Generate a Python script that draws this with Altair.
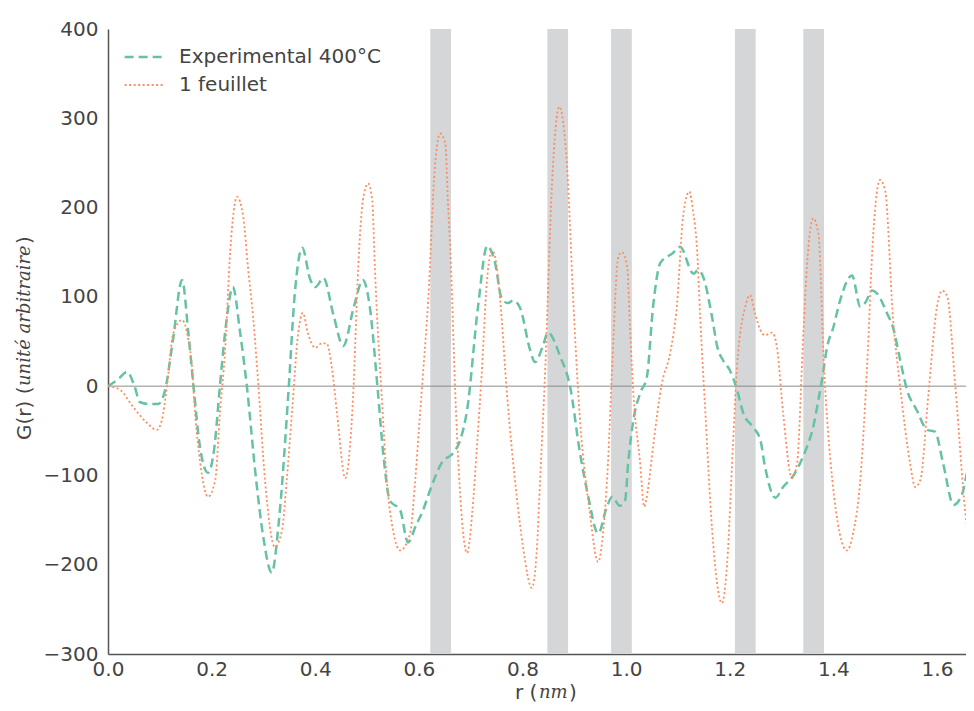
import altair as alt
import pandas as pd

# Experimental 400°C (green dashed)
exp_x = [0, 0.02, 0.037, 0.05, 0.062, 0.08, 0.097, 0.11, 0.125, 0.143, 0.155, 0.165, 0.178, 0.193, 0.205, 0.216, 0.228, 0.241, 0.255, 0.268, 0.285, 0.3, 0.316, 0.33, 0.349, 0.36, 0.375, 0.39, 0.40, 0.416, 0.435, 0.454, 0.475, 0.492, 0.505, 0.52, 0.532, 0.544, 0.564, 0.579, 0.595, 0.606, 0.622, 0.645, 0.666, 0.68, 0.693, 0.714, 0.732, 0.747, 0.76, 0.772, 0.782, 0.795, 0.815, 0.824, 0.84, 0.849, 0.873, 0.892, 0.911, 0.927, 0.946, 0.963, 0.973, 0.988, 0.998, 1.004, 1.014, 1.027, 1.04, 1.052, 1.066, 1.09, 1.104, 1.13, 1.139, 1.149, 1.166, 1.176, 1.187, 1.2, 1.214, 1.226, 1.245, 1.259, 1.268, 1.288, 1.303, 1.323, 1.336, 1.349, 1.361, 1.371, 1.378, 1.388, 1.4, 1.413, 1.436, 1.452, 1.461, 1.475, 1.484, 1.504, 1.515, 1.529, 1.542, 1.561, 1.581, 1.596, 1.612, 1.632, 1.649, 1.658, 1.672]
exp_y = [0, 8, 16, 2, -18, -20, -20, -5, 50, 119, 60, 0, -70, -97, -70, 0, 70, 111, 60, 0, -100, -170, -209, -150, 0, 100, 155, 120, 111, 121, 80, 45, 90, 119, 90, 0, -80, -128, -139, -175, -155, -142, -116, -85, -75, -60, -27, 88, 157, 138, 98, 93, 96, 88, 40, 27, 46, 60, 33, -1, -75, -124, -165, -135, -124, -134, -128, -86, -38, -8, 10, 89, 138, 149, 156, 126, 130, 122, 77, 44, 29, 18, -4, -30, -46, -60, -90, -125, -113, -100, -86, -68, -46, -16, 7, 44, 66, 96, 124, 89, 93, 107, 104, 81, 66, 29, -4, -27, -49, -51, -87, -133, -120, -97, -74]

# 1 feuillet (orange dotted)
sim_x = [0, 0.023, 0.048, 0.075, 0.094, 0.104, 0.113, 0.126, 0.143, 0.155, 0.162, 0.168, 0.178, 0.193, 0.207, 0.216, 0.226, 0.236, 0.249, 0.261, 0.27, 0.28, 0.29, 0.303, 0.322, 0.336, 0.345, 0.355, 0.367, 0.376, 0.386, 0.4, 0.413, 0.422, 0.432, 0.442, 0.458, 0.467, 0.473, 0.483, 0.492, 0.502, 0.51, 0.515, 0.521, 0.528, 0.538, 0.55, 0.564, 0.583, 0.593, 0.6, 0.608, 0.618, 0.631, 0.641, 0.651, 0.656, 0.662, 0.67, 0.68, 0.693, 0.703, 0.712, 0.722, 0.731, 0.741, 0.747, 0.757, 0.77, 0.789, 0.801, 0.818, 0.828, 0.834, 0.844, 0.857, 0.871, 0.878, 0.886, 0.898, 0.908, 0.93, 0.946, 0.956, 0.965, 0.973, 0.985, 0.992, 1.002, 1.008, 1.014, 1.027, 1.035, 1.042, 1.052, 1.069, 1.085, 1.098, 1.11, 1.122, 1.129, 1.137, 1.143, 1.153, 1.166, 1.185, 1.195, 1.206, 1.214, 1.23, 1.239, 1.249, 1.259, 1.268, 1.282, 1.291, 1.303, 1.32, 1.33, 1.342, 1.349, 1.361, 1.371, 1.382, 1.398, 1.426, 1.438, 1.452, 1.465, 1.477, 1.49, 1.5, 1.515, 1.529, 1.548, 1.558, 1.568, 1.583, 1.6, 1.61, 1.62, 1.635, 1.66, 1.672]
sim_y = [0, -4, -23, -41, -49, -38, -4, 59, 74, 52, 22, -30, -86, -124, -105, -30, 40, 152, 212, 190, 134, 78, 3, -105, -180, -161, -105, -30, 59, 82, 59, 43, 48, 48, 21, -30, -103, -68, -12, 134, 208, 227, 208, 134, 59, -8, -105, -161, -184, -165, -105, -49, 14, 96, 246, 283, 272, 208, 134, -4, -124, -187, -142, -68, 21, 115, 152, 145, 96, -8, -124, -180, -226, -180, -105, 21, 227, 313, 298, 246, 96, -12, -142, -197, -161, -86, 21, 145, 150, 134, 59, -8, -86, -135, -116, -68, 3, 37, 90, 190, 218, 197, 152, 77, -30, -161, -243, -198, -68, 21, 89, 102, 81, 63, 57, 60, 44, -30, -103, -86, 59, 134, 188, 171, 21, -105, -184, -165, -105, 21, 171, 231, 219, 77, -1, -86, -113, -105, -12, 89, 107, 100, 3, -161, -172]

band_start = [0.622, 0.848, 0.971, 1.210, 1.342]
band_end = [0.662, 0.888, 1.011, 1.250, 1.382]

series_names = ["Experimental 400°C", "1 feuillet"]
x_ticks = [0.0, 0.2, 0.4, 0.6, 0.8, 1.0, 1.2, 1.4, 1.6]
y_ticks = [-300, -200, -100, 0, 100, 200, 300, 400]

# axis title pieces
ytitle_parts = ["G(r) (", "unité arbitraire", ")"]
xtitle_parts = ["r (", "nm", ")"]

df = pd.concat([
    pd.DataFrame({"r": exp_x, "G": exp_y, "serie": series_names[0], "ord": range(len(exp_x))}),
    pd.DataFrame({"r": sim_x, "G": sim_y, "serie": series_names[1], "ord": range(len(sim_x))}),
])
bands = pd.DataFrame({"a": band_start, "b": band_end})

xscale = alt.Scale(domain=[0, 1.656], nice=False, zero=False)
yscale = alt.Scale(domain=[-300, 400], nice=False)

rects = alt.Chart(bands).mark_rect(color="#d5d6d8").encode(
    x=alt.X("a:Q", scale=xscale,
            axis=alt.Axis(title=None, values=x_ticks, format=".1f", labelFlush=False,
                          labelPadding=5)),
    x2="b:Q",
)

zero = alt.Chart(pd.DataFrame({"z": [0]})).mark_rule(
    color="#808080", strokeWidth=1.5, opacity=0.6
).encode(y=alt.Y("z:Q", scale=yscale))

lines = alt.Chart(df).mark_line(interpolate="monotone", clip=True).encode(
    x=alt.X("r:Q", scale=xscale),
    y=alt.Y("G:Q", scale=yscale,
            axis=alt.Axis(title=None, values=y_ticks, format="d", labelPadding=10)),
    order="ord:Q",
    color=alt.Color("serie:N", sort=series_names,
                    scale=alt.Scale(domain=series_names, range=["#66c2a5", "#fc8d62"]),
                    legend=alt.Legend(title=None, orient="none", legendX=15, legendY=15,
                                      symbolType="stroke", symbolSize=1500,
                                      symbolStrokeWidth=2.5, labelFontSize=20,
                                      labelColor="#444444", rowPadding=2, clipHeight=26,
                                      labelOffset=14, labelLimit=0)),
    strokeDash=alt.StrokeDash("serie:N", sort=series_names,
                              scale=alt.Scale(domain=series_names, range=[[9, 5], [2, 2.5]]),
                              legend=None),
    strokeWidth=alt.StrokeWidth("serie:N",
                                scale=alt.Scale(domain=series_names, range=[2.5, 1.8]),
                                legend=None),
)

tcol = "#444444"
one = pd.DataFrame({"k": [0]})
def label(txt, x, y, angle, italic, size):
    kw = dict(text=txt, align="left", baseline="middle", color=tcol, fontSize=size)
    if angle:
        kw["angle"] = angle
    if italic:
        kw.update(font="DejaVu Serif", fontStyle="italic")
    return alt.Chart(one).mark_text(**kw).encode(x=alt.value(x), y=alt.value(y))

ytitle = [
    label(ytitle_parts[0], -83, 411, 270, False, 20),
    label(ytitle_parts[1], -83, 357, 270, True, 18),
    label(ytitle_parts[2], -83, 215, 270, False, 20),
]
xtitle = [
    label(xtitle_parts[0], 407, 664, 0, False, 20),
    label(xtitle_parts[1], 431, 664, 0, True, 18),
    label(xtitle_parts[2], 461, 664, 0, False, 20),
]

chart = alt.layer(rects, zero, lines, *ytitle, *xtitle).properties(
    width=858, height=625,
    autosize=alt.AutoSizeParams(type="none"),
    padding={"left": 100, "top": 21, "right": 0, "bottom": 49},
).configure(font="DejaVu Sans").configure_view(stroke=None).configure_axis(
    grid=False, ticks=False, labelFontSize=20,
    labelColor="#444444", domainColor="#555555", domainWidth=1.5,
)

chart.save("out.html", embed_options={"renderer": "svg", "actions": False})
